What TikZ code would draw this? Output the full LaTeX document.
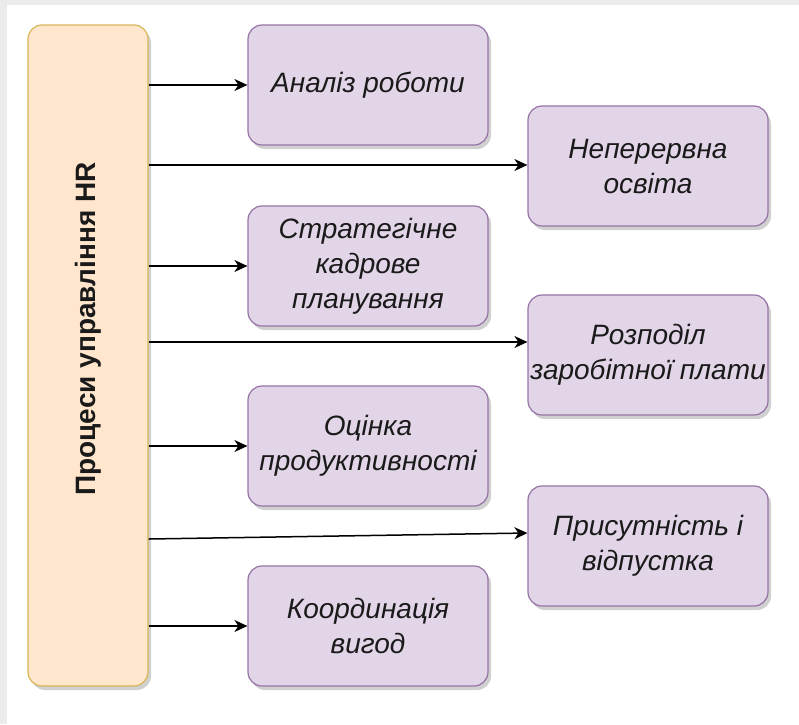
\documentclass[tikz,border=0pt]{standalone}
\usepackage{fontspec}
\setmainfont{Liberation Sans}
\usetikzlibrary{arrows.meta,shadows}
\definecolor{pagegray}{HTML}{EBEBEB}
\definecolor{hrfill}{HTML}{FFE6CC}
\definecolor{hrline}{HTML}{D6B656}
\definecolor{taskfill}{HTML}{E1D5E7}
\definecolor{taskline}{HTML}{9673A6}
\definecolor{inktext}{HTML}{1A1A1A}
\tikzset{
  boxshadow/.style={drop shadow={shadow xshift=3pt,shadow yshift=-4pt,opacity=0.3,fill=black!60}},
  hrbox/.style={draw=hrline,fill=hrfill,line width=1.2pt,rounded corners=14pt,
    minimum width=120pt,minimum height=661pt,inner sep=0pt,boxshadow},
  taskbox/.style={draw=taskline,fill=taskfill,line width=1.2pt,rounded corners=14pt,
    minimum width=240pt,minimum height=120pt,inner sep=0pt,boxshadow,
    text=inktext,align=center,font=\fontsize{28}{35}\selectfont\itshape},
  arr/.style={-{Stealth[length=13pt,width=12pt,inset=4pt]},line width=1.5pt,black}
}
\begin{document}
\begin{tikzpicture}[x=1pt,y=-1pt]
  % page
  \fill[pagegray] (0,0) rectangle (799,724);
  \fill[white] (7,5) rectangle (799,724);
  \useasboundingbox (0,0) rectangle (799,724);

  % main process column
  \node[hrbox] (hr) at (88,355.5) {};
  \node[rotate=90,text=inktext,font=\fontsize{28}{32}\selectfont\bfseries] (hrlabel) at (88,329) {Процеси управління HR};

  % process steps
  \node[taskbox] (b1) at (368,85)  {Аналіз роботи};
  \node[taskbox] (b2) at (648,166) {Неперервна\\освіта};
  \node[taskbox] (b3) at (368,266) {Стратегічне\\кадрове\\планування};
  \node[taskbox] (b4) at (648,355) {Розподіл\\заробітної плати};
  \node[taskbox] (b5) at (368,446) {Оцінка\\продуктивності};
  \node[taskbox] (b6) at (648,546) {Присутність і\\відпустка};
  \node[taskbox] (b7) at (368,626) {Координація\\вигод};

  % arrow end points on the steps
  \coordinate (e1) at (b1.west);
  \coordinate (e2) at ([yshift=1pt]b2.west);
  \coordinate (e3) at (b3.west);
  \coordinate (e4) at ([yshift=13pt]b4.west);
  \coordinate (e5) at (b5.west);
  \coordinate (e6) at ([yshift=13pt]b6.west);
  \coordinate (s6) at ([yshift=7pt]hr.east |- b6.west);
  \coordinate (e7) at (b7.west);

  % connectors
  \draw[arr] (hr.east |- e1) -- (e1);
  \draw[arr] (hr.east |- e2) -- (e2);
  \draw[arr] (hr.east |- e3) -- (e3);
  \draw[arr] (hr.east |- e4) -- (e4);
  \draw[arr] (hr.east |- e5) -- (e5);
  \draw[arr] (s6) -- (e6);
  \draw[arr] (hr.east |- e7) -- (e7);
\end{tikzpicture}
\end{document}
